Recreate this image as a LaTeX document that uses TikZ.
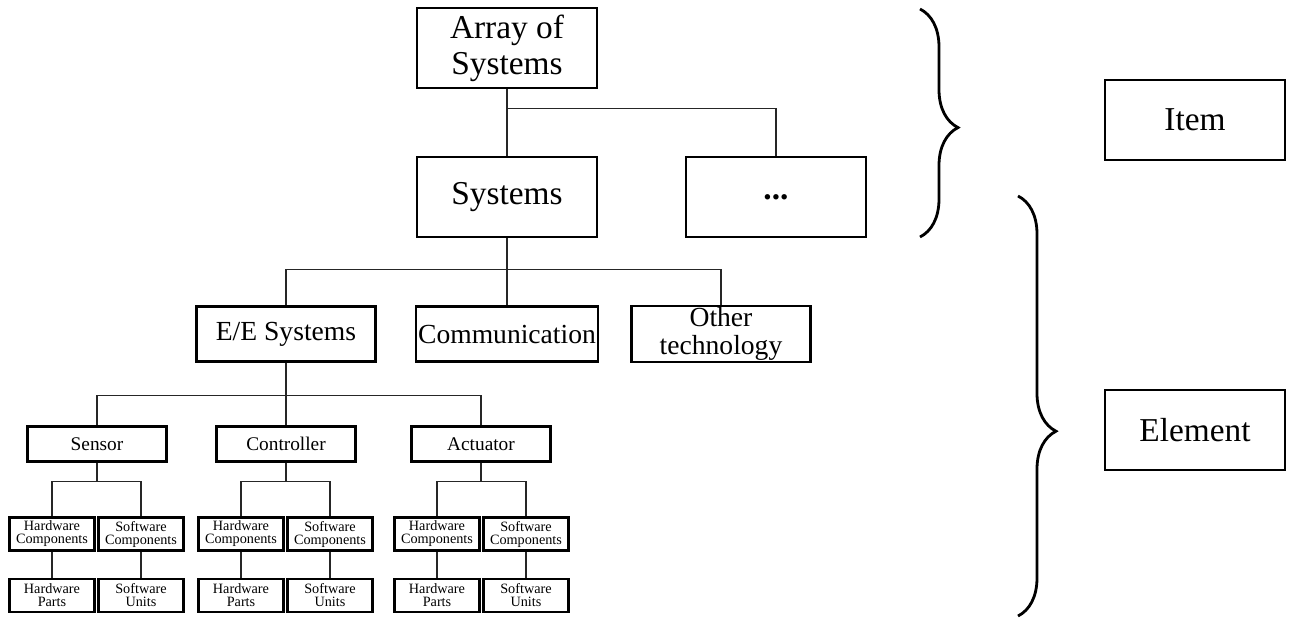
\documentclass[tikz,border=0pt]{standalone}
\usepackage{fontspec}
\setmainfont{Liberation Serif}
\usetikzlibrary{positioning,decorations.pathreplacing}

\begin{document}
\begin{tikzpicture}[x=0.02cm, y=-0.02cm,
  bigbox/.style={draw, line width=1.2pt, minimum width=3.6cm, minimum height=1.6cm, align=center, inner sep=1pt, font=\fontsize{19}{20.5}\selectfont},
  midbox/.style={draw, line width=1.2pt, minimum width=3.58cm, minimum height=1.1cm, align=center, inner sep=1pt, font=\fontsize{15.7}{16}\selectfont},
  subbox/.style={draw, line width=1.2pt, minimum width=2.78cm, minimum height=0.7cm, inner sep=1pt, font=\fontsize{11}{12}\selectfont},
  smallbox/.style={draw, line width=1.2pt, minimum width=1.7cm, minimum height=0.66cm, align=center, inner sep=1pt, font=\fontsize{8.1}{7.4}\selectfont},
  wire/.style={line width=0.6pt, black!85},
  curly/.style={decorate, decoration={brace, amplitude=0.76cm}, line width=1.6pt}]
		\useasboundingbox (0,0) rectangle (1291,619);

		% top levels
		\node[bigbox] (arr) at (507,48) {Array of\\Systems};
		\node[bigbox] (sys) at (507,197) {Systems};
		\node[bigbox] (dots) at (776,197) {\textbf{...}};
		\node[bigbox] (item) at (1195,120) {Item};
		\node[bigbox] (elem) at (1195,430) {Element};

		\node[midbox] (ee) at (286,334) {E/E Systems};
		\node[midbox] (comm) at (507,334) {Communication};
		\node[midbox] (oth) at (721,334) {Other\\technology};

		\node[subbox] (sen) at (97,444) {Sensor};
		\node[subbox] (con) at (286,444) {Controller};
		\node[subbox] (act) at (481,444) {Actuator};

		% components and parts
		\node[smallbox] (hc1) at (52,534) {Hardware\\Components};
		\node[smallbox] (sc1) at (141,534) {Software\\Components};
		\node[smallbox, below=0.52cm of hc1] (hp1) {Hardware\\Parts};
		\node[smallbox, below=0.52cm of sc1] (su1) {Software\\Units};

		\node[smallbox] (hc2) at (241,534) {Hardware\\Components};
		\node[smallbox] (sc2) at (330,534) {Software\\Components};
		\node[smallbox, below=0.52cm of hc2] (hp2) {Hardware\\Parts};
		\node[smallbox, below=0.52cm of sc2] (su2) {Software\\Units};

		\node[smallbox] (hc3) at (437,534) {Hardware\\Components};
		\node[smallbox] (sc3) at (526,534) {Software\\Components};
		\node[smallbox, below=0.52cm of hc3] (hp3) {Hardware\\Parts};
		\node[smallbox, below=0.52cm of sc3] (su3) {Software\\Units};

		\draw[wire] (arr.south) -- (sys.north);
		\draw[wire] (arr.south) -- ++(0,19) -| (dots.north);

		\draw[wire] (sys.south) -- ++(0,31) -| (ee.north);
		\draw[wire] (sys.south) -- ++(0,31) -| (comm.north);
		\draw[wire] (sys.south) -- ++(0,31) -| (oth.north);

		\draw[wire, line width=1pt] (ee.south) -- ++(0,33) -| (sen.north);
		\draw[wire] (ee.south) -- ++(0,33) -| (con.north);
		\draw[wire] (ee.south) -- ++(0,33) -| (act.north);

		\draw[wire] (sen.south) -- ++(0,19) -| (hc1.north);
		\draw[wire] (sen.south) -- ++(0,19) -| (sc1.north);
		\draw[wire] (con.south) -- ++(0,19) -| (hc2.north);
		\draw[wire] (con.south) -- ++(0,19) -| (sc2.north);
		\draw[wire] (act.south) -- ++(0,19) -| (hc3.north);
		\draw[wire] (act.south) -- ++(0,19) -| (sc3.north);

		\draw[wire] (hc1) -- (hp1);
		\draw[wire] (sc1) -- (su1);
		\draw[wire] (hc2) -- (hp2);
		\draw[wire] (sc2) -- (su2);
		\draw[wire] (hc3) -- (hp3);
		\draw[wire] (sc3) -- (su3);

		% braces
		\coordinate (b1a) at (920,9);
		\coordinate (b1b) at (920,237);
		\coordinate (b2a) at (1018,196);
		\coordinate (b2b) at (1018,616);
		\draw[curly, decoration={aspect=0.52}] (b1a) -- (b1b);
		\draw[curly, decoration={aspect=0.56}] (b2a) -- (b2b);
	\end{tikzpicture}
\end{document}
